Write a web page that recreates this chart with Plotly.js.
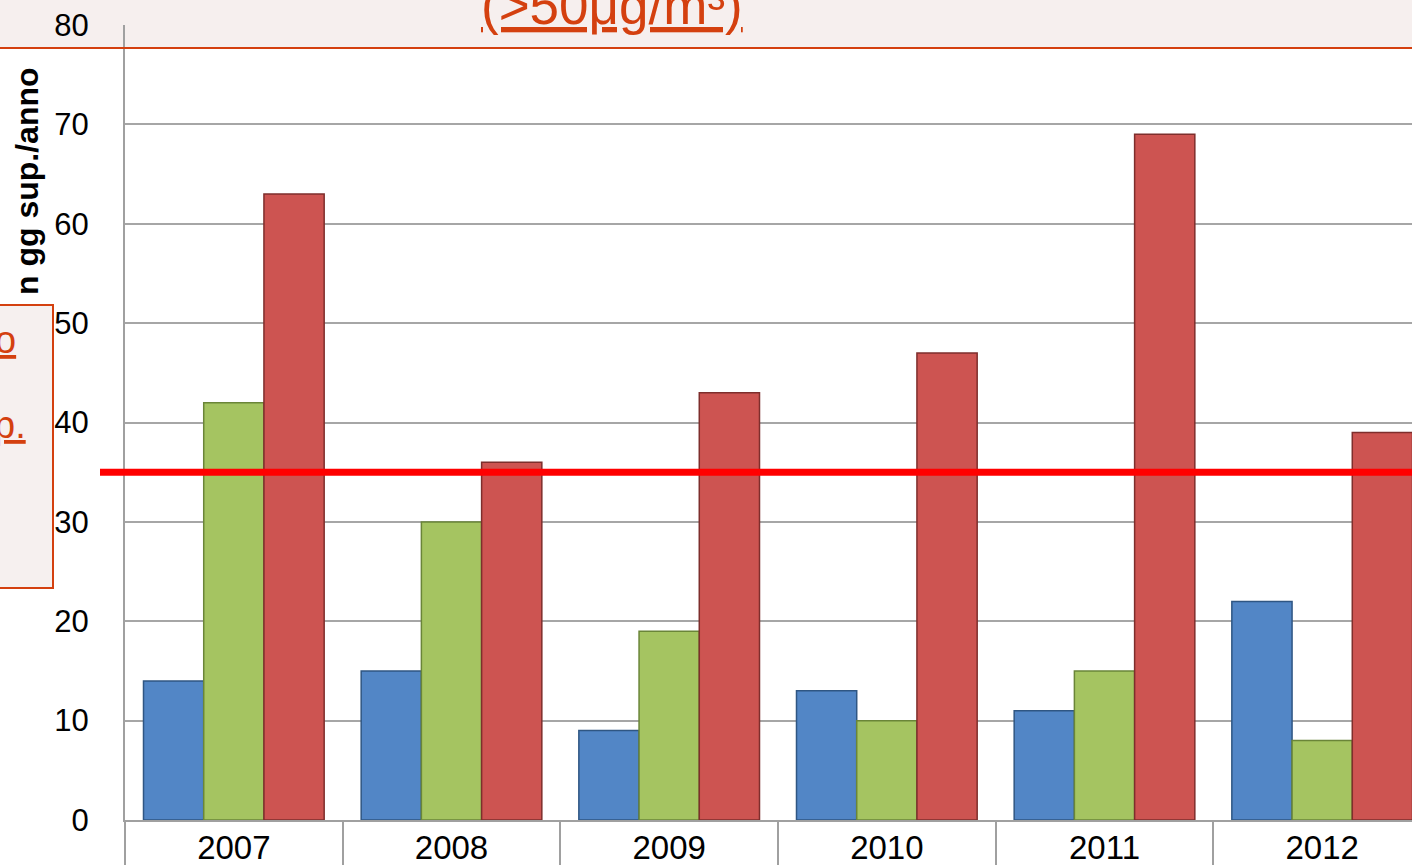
<!DOCTYPE html>
<html>
<head>
<meta charset="utf-8">
<script src="https://cdn.plot.ly/plotly-3.0.1.min.js"></script>
<style>
html,body{margin:0;padding:0;overflow:hidden;background:#fff;width:1412px;height:865px;}
#chart{width:1440px;height:880px;}
</style>
</head>
<body>
<div id="chart"></div>
<script>
// ---- data ----
var years = ["2007", "2008", "2009", "2010", "2011", "2012"];
var seriesBlue = [14, 15, 9, 13, 11, 22];
var seriesGreen = [42, 30, 19, 10, 15, 8];
var seriesRed = [63, 36, 43, 47, 69, 39];
var limitValue = 35;
var yTicks = [0, 10, 20, 30, 40, 50, 60, 70, 80];
var titleText = "(>50μg/m³)";
var yTitleText = "n gg sup./anno";
var boxTexts = ["o", "p."];

// ---- layout helpers (pixel -> paper) ----
var L = 125, PW = 1306, T = 25, PH = 795;
function px(X){ return (X - L) / PW; }
function py(Y){ return (T + PH - Y) / PH; }

var numFont = "Liberation Sans, Arial, sans-serif";
var orange = "#d4400f";

function bar(vals, color, edge){
  return {
    type: "bar", x: years, y: vals,
    marker: {color: color, line: {color: edge, width: 1.5}},
    hoverinfo: "skip", showlegend: false
  };
}

var data = [
  bar(seriesBlue, "#5286c6", "#2f5683"),
  bar(seriesGreen, "#a5c461", "#6a8538"),
  bar(seriesRed, "#cd5451", "#7e2e2c")
];

var layout = {
  width: 1440, height: 880,
  margin: {l: L, r: 1440 - L - PW, t: T, b: 880 - T - PH, pad: 0},
  paper_bgcolor: "#ffffff",
  plot_bgcolor: "rgba(0,0,0,0)",
  barmode: "group", bargap: 0.17, bargroupgap: 0,
  showlegend: false,
  xaxis: {
    type: "category", tickson: "boundaries",
    ticks: "outside", ticklen: 60, tickwidth: 2, tickcolor: "#a0a0a0",
    ticklabelstandoff: -3,
    showline: true, linecolor: "#a0a0a0", linewidth: 2,
    showgrid: false, zeroline: false,
    tickfont: {family: numFont, size: 33, color: "#000"}
  },
  yaxis: {
    range: [0, 80], tickvals: yTicks, ticktext: yTicks.map(String),
    ticks: "", ticklabelstandoff: 28,
    showline: true, linecolor: "#a0a0a0", linewidth: 2,
    showgrid: true, gridcolor: "#a6a6a6", gridwidth: 2,
    zeroline: false,
    tickfont: {family: numFont, size: 31, color: "#000"}
  },
  shapes: [
    // header band
    {type: "rect", xref: "paper", yref: "paper", layer: "below",
     x0: px(-20), x1: px(1450), y0: py(48), y1: py(-10),
     fillcolor: "#f6efee", line: {width: 0}},
    // header line
    {type: "line", xref: "paper", yref: "paper", layer: "above",
     x0: px(-20), x1: px(1450), y0: py(48), y1: py(48),
     line: {color: orange, width: 2}},
    // left box
    {type: "rect", xref: "paper", yref: "paper", layer: "above",
     x0: px(-20), x1: px(53), y0: py(588), y1: py(305),
     fillcolor: "#f6f0ef", line: {color: orange, width: 2}},
    // limit line
    {type: "line", xref: "paper", yref: "y", layer: "above",
     x0: px(100), x1: px(1450), y0: limitValue, y1: limitValue,
     line: {color: "#ff0000", width: 7}}
  ],
  annotations: [
    {text: "<u>" + titleText + "</u>", xref: "paper", yref: "paper",
     x: px(612), y: py(37), xanchor: "center", yanchor: "bottom",
     showarrow: false, font: {family: "Liberation Sans, Arial, sans-serif", size: 53, color: orange}},
    {text: "<b>" + yTitleText + "</b>", xref: "paper", yref: "paper",
     x: px(27), y: py(181), xanchor: "center", yanchor: "middle", textangle: -90,
     showarrow: false, font: {family: "Liberation Sans, Arial, sans-serif", size: 32, color: "#000"}},
    {text: "<u>" + boxTexts[0] + "</u>", xref: "paper", yref: "paper",
     x: px(18), y: py(340), xanchor: "right", yanchor: "middle",
     showarrow: false, font: {family: "Liberation Sans, Arial, sans-serif", size: 38, color: orange}},
    {text: "<u>" + boxTexts[1] + "</u>", xref: "paper", yref: "paper",
     x: px(28), y: py(425), xanchor: "right", yanchor: "middle",
     showarrow: false, font: {family: "Liberation Sans, Arial, sans-serif", size: 38, color: orange}}
  ]
};

Plotly.newPlot("chart", data, layout, {staticPlot: true, displayModeBar: false});
</script>
</body>
</html>
